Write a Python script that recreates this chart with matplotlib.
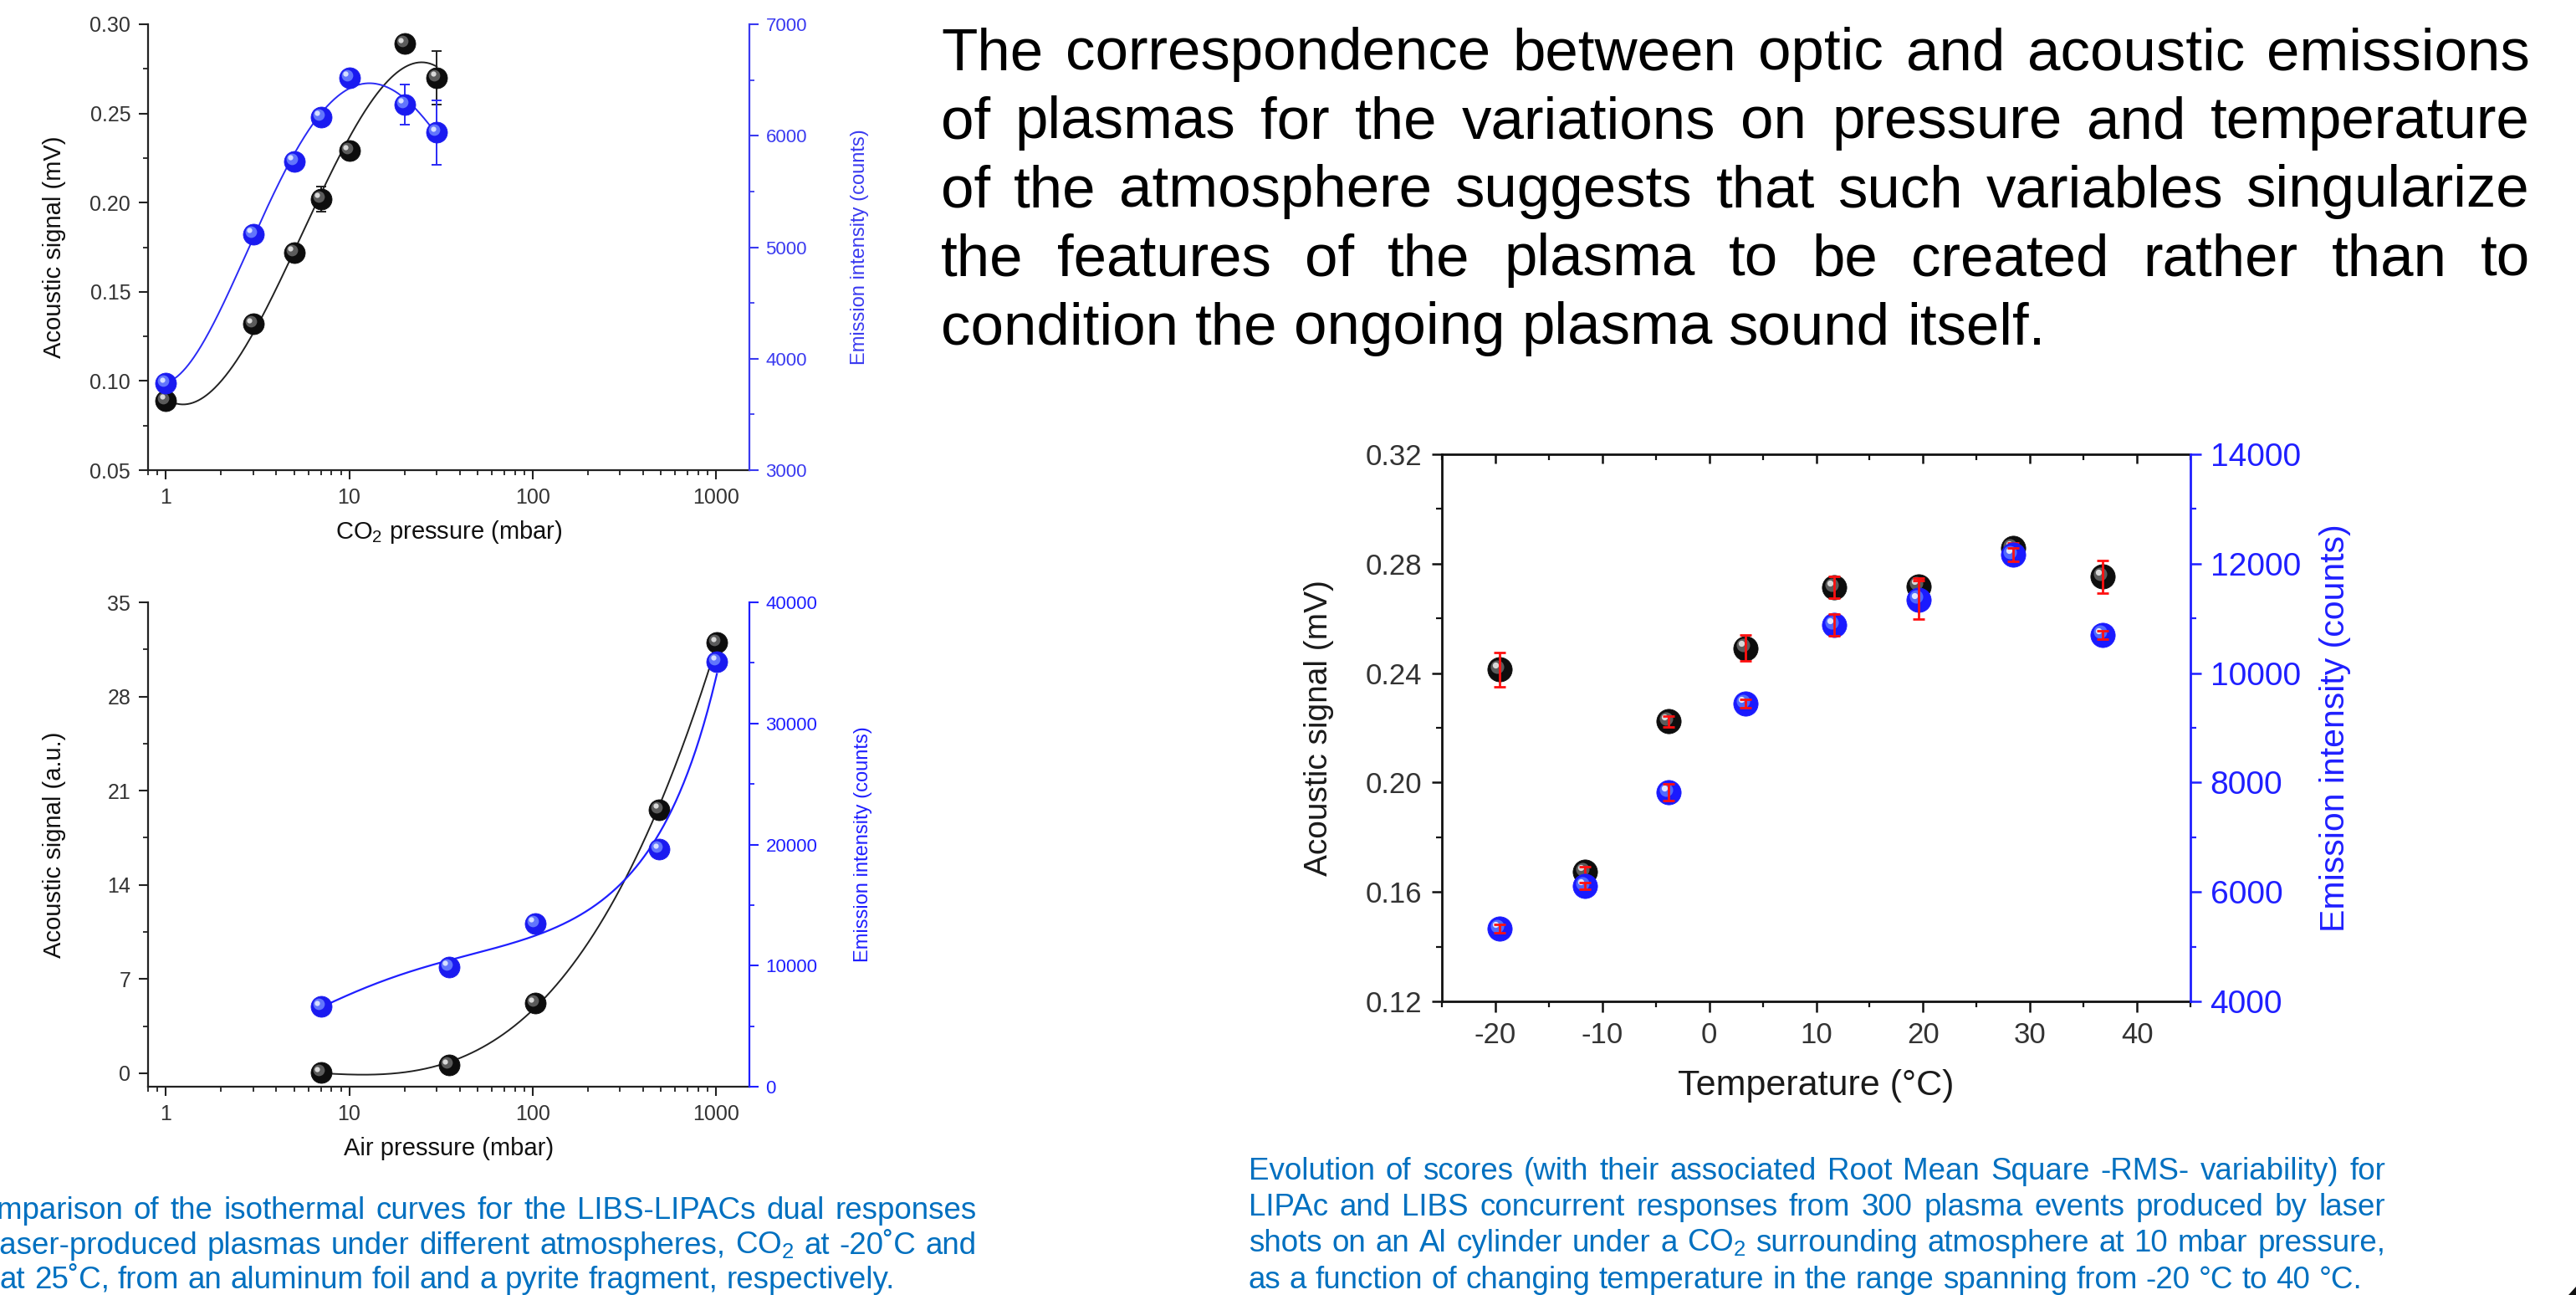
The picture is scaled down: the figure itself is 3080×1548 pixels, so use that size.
import numpy as np
import matplotlib
matplotlib.use("Agg")
import matplotlib.pyplot as plt
from matplotlib import transforms as mtrans
from matplotlib.patches import Polygon
from matplotlib.ticker import (FixedLocator, MultipleLocator, LogLocator,
                               NullFormatter, FixedFormatter, FormatStrFormatter)

plt.rcParams['font.family'] = ['Liberation Sans', 'DejaVu Sans']
plt.rcParams['mathtext.fontset'] = 'custom'
plt.rcParams['mathtext.rm'] = 'Liberation Sans'
plt.rcParams['axes.unicode_minus'] = False

# ---------------- data ----------------
# CO2 atmosphere, -20 C, aluminium foil
co2_pressure = [1, 3, 5, 7, 10, 20, 30]
co2_acoustic = [0.089, 0.132, 0.172, 0.202, 0.229, 0.289, 0.270]
co2_acoustic_err = [0.002, 0.002, 0.002, 0.007, 0.005, 0.004, 0.015]
co2_emission = [3780, 5120, 5770, 6170, 6520, 6280, 6030]
co2_emission_err = [40, 40, 40, 40, 40, 180, 290]

# air atmosphere, 25 C, pyrite fragment
air_pressure = [7, 35, 103, 490, 1010]
air_acoustic = [0.05, 0.6, 5.2, 19.6, 32.0]
air_emission = [6600, 9900, 13500, 19600, 35100]

# temperature series, CO2 at 10 mbar, Al cylinder
temperature = [-19.6, -11.6, -3.8, 3.4, 11.7, 19.6, 28.4, 36.8]
temp_acoustic = [0.2413, 0.1673, 0.2223, 0.2492, 0.2713, 0.2718, 0.2856, 0.2752]
temp_acoustic_err = [0.0063, 0.002, 0.002, 0.0046, 0.004, 0.003, 0.002, 0.006]
temp_emission = [5330, 6110, 7820, 9440, 10880, 11340, 12160, 10700]
temp_emission_err = [80, 60, 150, 80, 200, 350, 120, 80]

log_ticks = [1, 10, 100, 1000]
log_ticklabels = ['1', '10', '100', '1000']

paragraph = [
    "The correspondence between optic and acoustic emissions",
    "of plasmas for the variations on pressure and temperature",
    "of the atmosphere suggests that such variables singularize",
    "the features of the plasma to be created rather than to",
    "condition the ongoing plasma sound itself.",
]
caption_left = [
    "Comparison of the isothermal curves for the LIBS-LIPACs dual responses",
    "of laser-produced plasmas under different atmospheres, CO$_\\mathregular{2}$ at -20\u02daC and",
    "air at 25\u02daC, from an aluminum foil and a pyrite fragment, respectively.",
]
caption_right = [
    "Evolution of scores (with their associated Root Mean Square -RMS- variability) for",
    "LIPAc and LIBS concurrent responses from 300 plasma events produced by laser",
    "shots on an Al cylinder under a CO$_\\mathregular{2}$ surrounding atmosphere at 10 mbar pressure,",
    "as a function of changing temperature in the range spanning from -20 \u00b0C to 40 \u00b0C.",
]

# ---------------- figure ----------------
W, H = 3080, 1548
fig = plt.figure(figsize=(W / 100, H / 100), dpi=100)
fig.patch.set_facecolor('white')


def box(left, top, right, bottom):
    return [left / W, 1 - bottom / H, (right - left) / W, (bottom - top) / H]


TICK_GRAY = '#333333'
BLUE_L = '#3a3af0'
BLUE_R = '#1f1fff'


def sphere(ax, x, y, base, mid, light, ms, z):
    ax.plot(x, y, 'o', ls='none', ms=ms, mfc=base, mec=base, mew=0.6, zorder=z)
    t1 = mtrans.offset_copy(ax.transData, fig=fig, x=-ms * 0.12, y=ms * 0.12, units='points')
    ax.plot(x, y, 'o', ls='none', ms=ms * 0.55, mfc=mid, mec='none',
            zorder=z + 0.1, transform=t1, alpha=0.85)
    t2 = mtrans.offset_copy(ax.transData, fig=fig, x=-ms * 0.18, y=ms * 0.18, units='points')
    ax.plot(x, y, 'o', ls='none', ms=ms * 0.25, mfc=light, mec='none',
            zorder=z + 0.2, transform=t2)


def smooth_log(x, y, deg, loglog=False):
    x = np.asarray(x, float)
    y = np.asarray(y, float)
    lx = np.log10(x)
    yy = np.log10(y) if loglog else y
    c = np.polyfit(lx, yy, deg)
    xg = np.logspace(lx.min(), lx.max(), 300)
    yg = np.polyval(c, np.log10(xg))
    return xg, (10 ** yg if loglog else yg)


def style_log_panel(ax, ax2, rcolor):
    ax.set_xscale('log')
    ax.set_xlim(0.8, 1520)
    ax.xaxis.set_major_locator(FixedLocator(log_ticks))
    ax.xaxis.set_major_formatter(FixedFormatter(log_ticklabels))
    ax.xaxis.set_minor_locator(LogLocator(base=10, subs=np.arange(2, 10), numticks=20))
    ax.xaxis.set_minor_formatter(NullFormatter())
    for a in (ax, ax2):
        a.spines['top'].set_visible(False)
    ax.spines['right'].set_visible(False)
    ax2.spines['left'].set_visible(False)
    ax2.spines['bottom'].set_visible(False)
    for s in ('left', 'bottom'):
        ax.spines[s].set_linewidth(1.6)
        ax.spines[s].set_color('#222222')
    ax2.spines['right'].set_linewidth(1.6)
    ax2.spines['right'].set_color(rcolor)
    ax.tick_params(which='major', direction='out', length=8, width=1.5,
                   labelsize=18, labelcolor=TICK_GRAY, color='#222222', pad=7)
    ax.tick_params(which='minor', direction='out', length=4.5, width=1.3, color='#222222')
    ax2.tick_params(which='major', direction='out', length=8, width=1.5,
                    labelsize=16, labelcolor=rcolor, color=rcolor, pad=6)
    ax2.tick_params(which='minor', direction='out', length=4.5, width=1.3, color=rcolor)


# ---- panel 1: CO2 pressure ----
ax1 = fig.add_axes(box(177, 29, 896, 562))
ax1b = ax1.twinx()
style_log_panel(ax1, ax1b, BLUE_L)
ax1.set_ylim(0.05, 0.30)
ax1.yaxis.set_major_locator(MultipleLocator(0.05))
ax1.yaxis.set_minor_locator(MultipleLocator(0.025))
ax1.yaxis.set_major_formatter(FormatStrFormatter('%.2f'))
ax1b.set_ylim(3000, 7000)
ax1b.yaxis.set_major_locator(MultipleLocator(1000))
ax1b.yaxis.set_minor_locator(MultipleLocator(500))

xg, yg = smooth_log(co2_pressure, co2_acoustic, 3)
ax1.plot(xg, yg, color='#222222', lw=1.4, zorder=2)
ax1.errorbar(co2_pressure, co2_acoustic, yerr=co2_acoustic_err, fmt='none',
             ecolor='#222222', elinewidth=1.4, capsize=4, capthick=1.4, zorder=3)
sphere(ax1, co2_pressure, co2_acoustic, '#0d0d0d', '#6a6a6a', '#d8d8d8', 18, 4)

xg, yg = smooth_log(co2_pressure, co2_emission, 4)
ax1b.plot(xg, yg, color='#2a2af5', lw=1.4, zorder=2)
ax1b.errorbar(co2_pressure, co2_emission, yerr=co2_emission_err, fmt='none',
              ecolor='#2a2af5', elinewidth=1.4, capsize=4, capthick=1.4, zorder=3)
sphere(ax1b, co2_pressure, co2_emission, '#1a1af0', '#6f86ff', '#d6e0ff', 18, 4)

ax1.set_ylabel('Acoustic signal (mV)', fontsize=21, color='#111111')
ax1.yaxis.set_label_coords(-0.136, 0.5)
ax1b.set_ylabel('Emission intensity (counts)', fontsize=17, color=BLUE_L)
ax1b.yaxis.set_label_coords(1.168, 0.5)
ax1.set_xlabel('CO$_\\mathregular{2}$ pressure (mbar)', fontsize=21, color='#111111')
ax1.xaxis.label.set_va('center')
ax1.xaxis.set_label_coords(0.5, -(636 - 562) / 533)

# ---- panel 2: air pressure ----
ax2 = fig.add_axes(box(177, 720, 896, 1299))
ax2b = ax2.twinx()
style_log_panel(ax2, ax2b, BLUE_R)
ax2.set_ylim(-1, 35)
ax2.yaxis.set_major_locator(FixedLocator([0, 7, 14, 21, 28, 35]))
ax2.yaxis.set_minor_locator(FixedLocator([3.5, 10.5, 17.5, 24.5, 31.5]))
ax2b.set_ylim(0, 40000)
ax2b.yaxis.set_major_locator(MultipleLocator(10000))
ax2b.yaxis.set_minor_locator(MultipleLocator(5000))

xg, yg = smooth_log(air_pressure, air_acoustic, 3)
ax2.plot(xg, yg, color='#222222', lw=1.4, zorder=2)
sphere(ax2, air_pressure, air_acoustic, '#0d0d0d', '#6a6a6a', '#d8d8d8', 18, 4)
xg, yg = smooth_log(air_pressure, air_emission, 3, loglog=True)
ax2b.plot(xg, yg, color='#1f1fff', lw=1.6, zorder=2)
sphere(ax2b, air_pressure, air_emission, '#1a1af0', '#6f86ff', '#d6e0ff', 18, 4)

ax2.set_ylabel('Acoustic signal (a.u.)', fontsize=21, color='#111111')
ax2.yaxis.set_label_coords(-0.136, 0.5)
ax2b.set_ylabel('Emission intensity (counts)', fontsize=17, color=BLUE_R)
ax2b.yaxis.set_label_coords(1.174, 0.5)
ax2.set_xlabel('Air pressure (mbar)', fontsize=21, color='#111111')
ax2.xaxis.label.set_va('center')
ax2.xaxis.set_label_coords(0.5, -(1373 - 1299) / 579)

# ---- panel 3: temperature ----
ax3 = fig.add_axes(box(1724, 543, 2619, 1197))
ax3b = ax3.twinx()
ax3.set_xlim(-25, 45)
ax3.set_ylim(0.12, 0.32)
ax3.xaxis.set_major_locator(MultipleLocator(10))
ax3.xaxis.set_minor_locator(MultipleLocator(5))
ax3.yaxis.set_major_locator(MultipleLocator(0.04))
ax3.yaxis.set_minor_locator(MultipleLocator(0.02))
ax3.yaxis.set_major_formatter(FormatStrFormatter('%.2f'))
ax3b.set_ylim(4000, 14000)
ax3b.yaxis.set_major_locator(MultipleLocator(2000))
ax3b.yaxis.set_minor_locator(MultipleLocator(1000))

ax3.spines['right'].set_visible(False)
for s in ('left', 'bottom', 'top'):
    ax3.spines[s].set_linewidth(2.0)
    ax3.spines[s].set_color('#111111')
for s in ('left', 'bottom', 'top'):
    ax3b.spines[s].set_visible(False)
ax3b.spines['right'].set_color(BLUE_R)
ax3b.spines['right'].set_linewidth(2.0)
ax3.tick_params(which='major', direction='out', length=9, width=1.8,
                labelsize=25, labelcolor=TICK_GRAY, color='#111111', pad=8)
ax3.tick_params(which='minor', direction='out', length=5, width=1.6, color='#111111')
ax3b.tick_params(which='major', direction='out', length=9, width=1.8,
                 labelsize=28, labelcolor=BLUE_R, color=BLUE_R, pad=8)
ax3b.tick_params(which='minor', direction='out', length=5, width=1.6, color=BLUE_R)
top = ax3.secondary_xaxis('top')
top.xaxis.set_major_locator(MultipleLocator(10))
top.xaxis.set_minor_locator(MultipleLocator(5))
top.tick_params(which='major', direction='in', length=8, width=1.8, labeltop=False,
                color='#111111')
top.tick_params(which='minor', direction='in', length=5, width=1.6, color='#111111')
top.spines['top'].set_visible(False)

sphere(ax3, temperature, temp_acoustic, '#0d0d0d', '#6a6a6a', '#d8d8d8', 21, 3)
ax3.errorbar(temperature, temp_acoustic, yerr=temp_acoustic_err, fmt='none',
             ecolor='#ff1010', elinewidth=2.0, capsize=5, capthick=2.0, zorder=6)
sphere(ax3b, temperature, temp_emission, '#1a1aff', '#5a78ff', '#dfe6ff', 21, 3)
ax3b.errorbar(temperature, temp_emission, yerr=temp_emission_err, fmt='none',
              ecolor='#ff1010', elinewidth=2.0, capsize=5, capthick=2.0, zorder=6)

ax3.set_ylabel('Acoustic signal (mV)', fontsize=28, color='#1a1a1a')
ax3.yaxis.set_label_coords(-0.144, 0.5)
ax3b.set_ylabel('Emission intensity (counts)', fontsize=29.5, color=BLUE_R)
ax3b.yaxis.set_label_coords(1.172, 0.5)
ax3.set_xlabel('Temperature (\u00b0C)', fontsize=31, color='#1a1a1a')
ax3.xaxis.label.set_va('center')
ax3.xaxis.set_label_coords(0.5, -(1298 - 1197) / 654)


# ---------------- text blocks ----------------
renderer = fig.canvas.get_renderer()


def justified(lines, x0, x1, baselines, size, color):
    space = size * 0.278 * fig.dpi / 72.0
    for i, (line, yb) in enumerate(zip(lines, baselines)):
        words = line.split(' ')
        arts = [fig.text(0, 1 - yb / H, w, fontsize=size, color=color,
                         ha='left', va='baseline') for w in words]
        widths = [a.get_window_extent(renderer).width for a in arts]
        if i == len(lines) - 1 or len(words) == 1:
            gap = space
        else:
            gap = ((x1 - x0) - sum(widths)) / (len(words) - 1)
        x = x0
        for a, w in zip(arts, widths):
            a.set_x(x / W)
            x += w + gap


justified(paragraph, 1125, 3025, [83, 165, 247, 329, 411], 51, '#000000')

cap_size = 26.5
probe = fig.text(0, 0, 'air ', fontsize=cap_size)
air_w = probe.get_window_extent(renderer).width
probe.remove()
justified(caption_left, -air_w, 1168, [1457, 1499, 1540], cap_size, '#0070C0')
justified(caption_right, 1493, 2852, [1410, 1453, 1496, 1540], cap_size, '#0070C0')

# small dark corner shape at the lower right edge
fig.patches.append(Polygon([[3071 / W, 0], [1, 0], [1, 10 / H]], closed=True,
                           transform=fig.transFigure, facecolor='#111111',
                           edgecolor='none'))

fig.savefig('out.png', dpi=100, facecolor='white')
